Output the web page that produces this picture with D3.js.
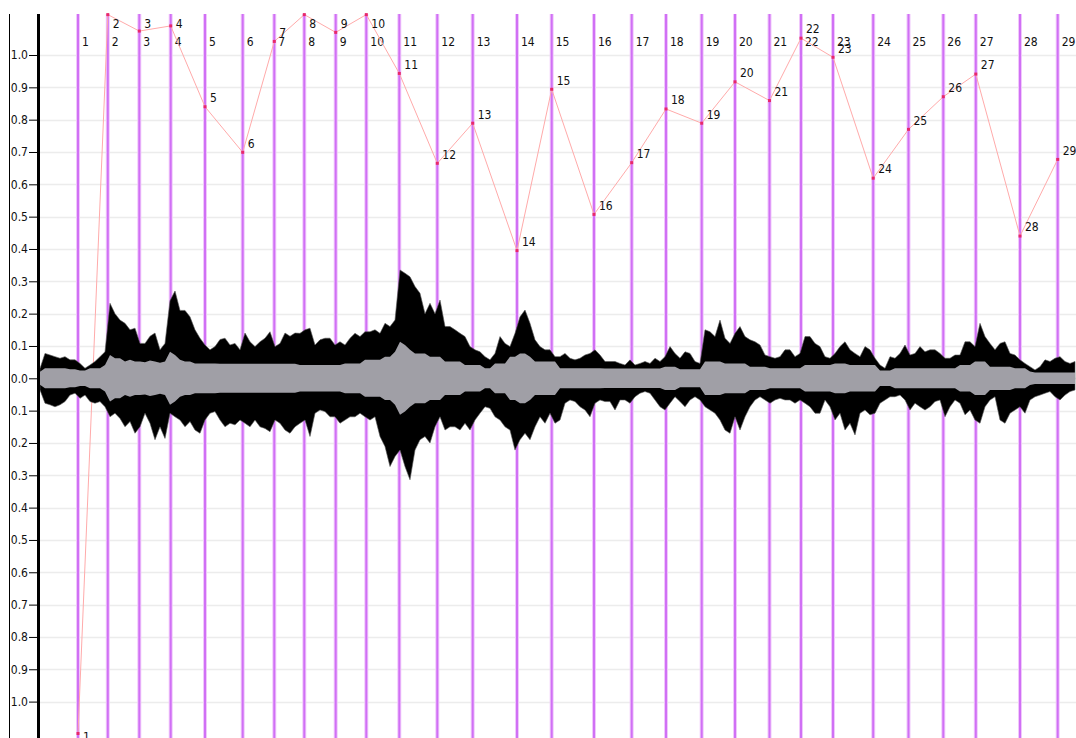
<!DOCTYPE html>
<html>
<head>
<meta charset="utf-8">
<script src="https://cdn.jsdelivr.net/npm/d3@7/dist/d3.min.js"></script>
<style>
  html, body { margin: 0; padding: 0; background: #fff; }
  svg { display: block; }
  text { font-family: "DejaVu Sans Condensed", "DejaVu Sans", Tahoma, sans-serif; font-size: 12px; fill: #111; }
</style>
</head>
<body>
<svg id="chart" width="1076" height="738"></svg>
<script>
// ---- data ----
// duration of the audio (seconds); waveform envelopes sampled once per second
const duration = 207.2;
// marker numbers and their times (s)
const markerIds = [1,2,3,4,5,6,7,8,9,10,11,12,13,14,15,16,17,18,19,20,21,22,23,24,25,26,27,28,29];
const markerTimes = [7.6,13.56,19.86,26.14,33.0,40.54,46.86,52.86,59.14,65.26,71.86,79.46,86.54,95.4,102.34,110.8,118.34,125.2,132.34,139.0,145.9,152.2,158.6,166.64,173.7,180.66,187.16,196.0,203.54];
// red curve value at each marker (values beyond the view are clipped)
const markerValues = [-1.10,1.13,1.074,1.09,0.84,0.699,1.042,1.13,1.07,1.13,0.943,0.665,0.789,0.395,0.894,0.507,0.667,0.833,0.789,0.917,0.859,1.052,0.993,0.619,0.77,0.871,0.941,0.44,0.677];
// y-axis tick values
const tickValues = [-1.0,-0.9,-0.8,-0.7,-0.6,-0.5,-0.4,-0.3,-0.2,-0.1,0.0,0.1,0.2,0.3,0.4,0.5,0.6,0.7,0.8,0.9,1.0];

// waveform peak (upper) envelope, one value per second
const peakTop = [
0.03,0.077,0.072,0.067,0.062,0.067,0.057,0.057,0.046,0.031,
0.041,0.052,0.067,0.082,0.232,0.2,0.18,0.17,0.15,0.155,
0.108,0.108,0.13,0.14,0.088,0.108,0.24,0.27,0.21,0.21,
0.19,0.15,0.124,0.103,0.088,0.098,0.12,0.124,0.103,0.108,
0.088,0.14,0.113,0.098,0.113,0.124,0.144,0.098,0.108,0.14,
0.13,0.14,0.139,0.15,0.155,0.103,0.119,0.124,0.124,0.103,
0.113,0.103,0.124,0.139,0.129,0.144,0.144,0.15,0.139,0.17,
0.16,0.18,0.335,0.325,0.314,0.284,0.263,0.2,0.232,0.2,
0.242,0.16,0.16,0.15,0.139,0.129,0.098,0.088,0.082,0.067,
0.057,0.077,0.129,0.108,0.098,0.139,0.19,0.211,0.17,0.119,
0.098,0.088,0.088,0.067,0.067,0.077,0.062,0.057,0.062,0.072,
0.077,0.088,0.072,0.052,0.052,0.052,0.046,0.041,0.057,0.041,
0.046,0.052,0.046,0.062,0.052,0.067,0.098,0.077,0.062,0.082,
0.077,0.052,0.046,0.15,0.144,0.129,0.18,0.124,0.108,0.139,
0.16,0.129,0.119,0.113,0.103,0.072,0.067,0.062,0.067,0.088,
0.088,0.067,0.077,0.129,0.129,0.108,0.098,0.067,0.062,0.077,
0.098,0.113,0.088,0.077,0.067,0.098,0.088,0.062,0.041,0.031,
0.067,0.062,0.077,0.103,0.072,0.077,0.098,0.082,0.088,0.088,
0.077,0.062,0.062,0.072,0.072,0.113,0.113,0.098,0.17,0.129,
0.108,0.088,0.108,0.113,0.077,0.072,0.057,0.046,0.036,0.026,
0.036,0.057,0.052,0.062,0.067,0.052,0.046,0.052];

// waveform peak (lower) envelope
const peakBottom = [
-0.036,-0.077,-0.082,-0.088,-0.082,-0.072,-0.052,-0.046,-0.062,-0.052,
-0.072,-0.077,-0.072,-0.088,-0.119,-0.108,-0.124,-0.15,-0.134,-0.17,
-0.15,-0.108,-0.139,-0.19,-0.15,-0.186,-0.108,-0.119,-0.129,-0.15,
-0.134,-0.16,-0.17,-0.129,-0.108,-0.103,-0.129,-0.15,-0.139,-0.144,
-0.129,-0.139,-0.15,-0.129,-0.15,-0.155,-0.165,-0.129,-0.139,-0.16,
-0.17,-0.15,-0.139,-0.129,-0.18,-0.108,-0.098,-0.103,-0.119,-0.119,
-0.139,-0.129,-0.119,-0.119,-0.108,-0.119,-0.129,-0.119,-0.18,-0.211,
-0.273,-0.242,-0.222,-0.273,-0.314,-0.222,-0.19,-0.18,-0.2,-0.15,
-0.119,-0.16,-0.15,-0.15,-0.16,-0.139,-0.16,-0.129,-0.108,-0.088,
-0.093,-0.119,-0.129,-0.15,-0.16,-0.222,-0.19,-0.17,-0.19,-0.15,
-0.119,-0.139,-0.108,-0.139,-0.129,-0.077,-0.067,-0.072,-0.088,-0.098,
-0.119,-0.077,-0.067,-0.072,-0.072,-0.098,-0.067,-0.067,-0.077,-0.057,
-0.046,-0.041,-0.046,-0.067,-0.088,-0.098,-0.077,-0.057,-0.072,-0.088,
-0.067,-0.057,-0.067,-0.088,-0.098,-0.108,-0.129,-0.16,-0.17,-0.119,
-0.16,-0.119,-0.088,-0.067,-0.057,-0.067,-0.077,-0.067,-0.062,-0.067,
-0.067,-0.077,-0.067,-0.077,-0.088,-0.108,-0.108,-0.067,-0.088,-0.129,
-0.108,-0.16,-0.139,-0.175,-0.108,-0.098,-0.113,-0.108,-0.077,-0.067,
-0.057,-0.057,-0.052,-0.067,-0.098,-0.077,-0.088,-0.098,-0.088,-0.072,
-0.067,-0.119,-0.088,-0.067,-0.077,-0.113,-0.098,-0.129,-0.139,-0.088,
-0.067,-0.057,-0.129,-0.139,-0.108,-0.098,-0.088,-0.108,-0.067,-0.057,
-0.052,-0.046,-0.041,-0.057,-0.067,-0.052,-0.041,-0.036];

// waveform RMS level (drawn symmetrically)
const rms = [
0.02,0.031,0.031,0.031,0.031,0.031,0.028,0.028,0.024,0.024,
0.031,0.031,0.031,0.041,0.072,0.062,0.062,0.052,0.057,0.052,
0.052,0.05,0.055,0.052,0.048,0.052,0.082,0.072,0.057,0.052,
0.052,0.046,0.046,0.046,0.046,0.046,0.045,0.045,0.045,0.045,
0.045,0.045,0.045,0.045,0.045,0.045,0.045,0.045,0.045,0.045,
0.045,0.045,0.041,0.041,0.041,0.041,0.041,0.041,0.041,0.041,
0.041,0.046,0.046,0.046,0.046,0.057,0.057,0.057,0.057,0.067,
0.067,0.082,0.113,0.103,0.088,0.077,0.077,0.077,0.067,0.067,
0.067,0.052,0.052,0.052,0.052,0.041,0.041,0.041,0.041,0.031,
0.031,0.046,0.046,0.046,0.067,0.067,0.077,0.077,0.067,0.052,
0.052,0.052,0.052,0.052,0.031,0.031,0.031,0.031,0.031,0.031,
0.031,0.031,0.031,0.03,0.03,0.03,0.03,0.03,0.03,0.03,
0.03,0.03,0.03,0.03,0.03,0.036,0.036,0.036,0.028,0.028,
0.028,0.028,0.028,0.052,0.052,0.052,0.052,0.046,0.046,0.046,
0.046,0.046,0.036,0.036,0.036,0.036,0.031,0.031,0.031,0.031,
0.031,0.031,0.031,0.041,0.041,0.041,0.041,0.041,0.041,0.046,
0.046,0.046,0.041,0.041,0.041,0.041,0.041,0.041,0.024,0.024,
0.024,0.031,0.031,0.031,0.031,0.031,0.031,0.031,0.031,0.031,
0.031,0.031,0.031,0.031,0.041,0.041,0.041,0.052,0.052,0.052,
0.036,0.036,0.036,0.036,0.036,0.031,0.031,0.031,0.021,0.018,
0.018,0.018,0.018,0.018,0.018,0.018,0.018,0.018];

// ---- layout ----
const W = 1076, H = 738;
const plotTop = 14, plotBottom = 738;
const plotLeft = 40, plotRight = 1076;

const svg = d3.select("#chart");

const x = d3.scaleLinear().domain([0, duration]).range([plotLeft, plotRight]);
const y = d3.scaleLinear().domain([-1, 1]).range([701.6, 55]);
// clipped scale for the red marker curve
const yc = d3.scaleLinear()
  .domain([y.invert(733.5), y.invert(14.6)])
  .range([733.5, 14.6]).clamp(true);

// horizontal grid
svg.append("g").selectAll("line").data(tickValues).join("line")
  .attr("x1", plotLeft).attr("x2", plotRight)
  .attr("y1", d => Math.round(y(d)) + 0.5).attr("y2", d => Math.round(y(d)) + 0.5)
  .attr("stroke", "#ececec").attr("stroke-width", 1.6);

// marker lines (purple)
const mg = svg.append("g");
mg.selectAll("line.halo").data(markerTimes).join("line").attr("class", "halo")
  .attr("x1", d => x(d)).attr("x2", d => x(d))
  .attr("y1", plotTop).attr("y2", plotBottom)
  .attr("stroke", "#f0c8fb").attr("stroke-width", 4);
mg.selectAll("line.core").data(markerTimes).join("line").attr("class", "core")
  .attr("x1", d => x(d)).attr("x2", d => x(d))
  .attr("y1", plotTop).attr("y2", plotBottom)
  .attr("stroke", "#d070f5").attr("stroke-width", 2);

// marker numbers at top
svg.append("g").selectAll("text").data(markerIds).join("text")
  .attr("x", (d, i) => x(markerTimes[i]) + 4)
  .attr("y", 45.5)
  .text(d => d);

// red curve (under waveform)
const pts = markerIds.map((id, i) => ({ id, t: markerTimes[i], v: markerValues[i] }));
svg.append("path").datum(pts)
  .attr("fill", "none").attr("stroke", "#ffaaaa").attr("stroke-width", 1)
  .attr("d", d3.line().x(d => x(d.t)).y(d => yc(d.v)));

// waveform
const secs = d3.range(peakTop.length);
svg.append("path").datum(secs)
  .attr("fill", "#000").attr("stroke", "#555").attr("stroke-width", 0.6)
  .attr("d", d3.area().x(i => x(i)).y0(i => y(peakBottom[i])).y1(i => y(peakTop[i])));
svg.append("path").datum(secs)
  .attr("fill", "#a09fa6")
  .attr("d", d3.area().x(i => x(i)).y0(i => y(-rms[i])).y1(i => y(rms[i])));

// red points
svg.append("g").selectAll("rect").data(pts).join("rect")
  .attr("x", d => x(d.t) - 1.5).attr("y", d => yc(d.v) - 1.5)
  .attr("width", 3).attr("height", 3).attr("fill", "#e8286a");

// point labels
svg.append("g").selectAll("text").data(pts).join("text")
  .attr("x", d => x(d.t) + 5)
  .attr("y", d => {
    if (d.v < yc.domain()[0]) return 741;
    return Math.max(yc(d.v) - 9, 23.5) + 4.3;
  })
  .text(d => d.id);

// left border line
svg.append("line").attr("x1", 9.5).attr("x2", 9.5).attr("y1", plotTop).attr("y2", H)
  .attr("stroke", "#000").attr("stroke-width", 1);

// y axis
const axis = d3.axisLeft(y).tickValues(tickValues).tickSize(8).tickPadding(1)
  .tickFormat(d => Math.abs(d).toFixed(1));
const ag = svg.append("g").attr("transform", "translate(37,0)").call(axis);
ag.select(".domain").remove();
ag.selectAll(".tick line").attr("stroke", "#000");
ag.selectAll(".tick text").attr("fill", "#111");
ag.attr("font-size", null).attr("font-family", null);
svg.append("rect").attr("x", 37).attr("y", plotTop).attr("width", 3).attr("height", H - plotTop)
  .attr("fill", "#000");
</script>
</body>
</html>
